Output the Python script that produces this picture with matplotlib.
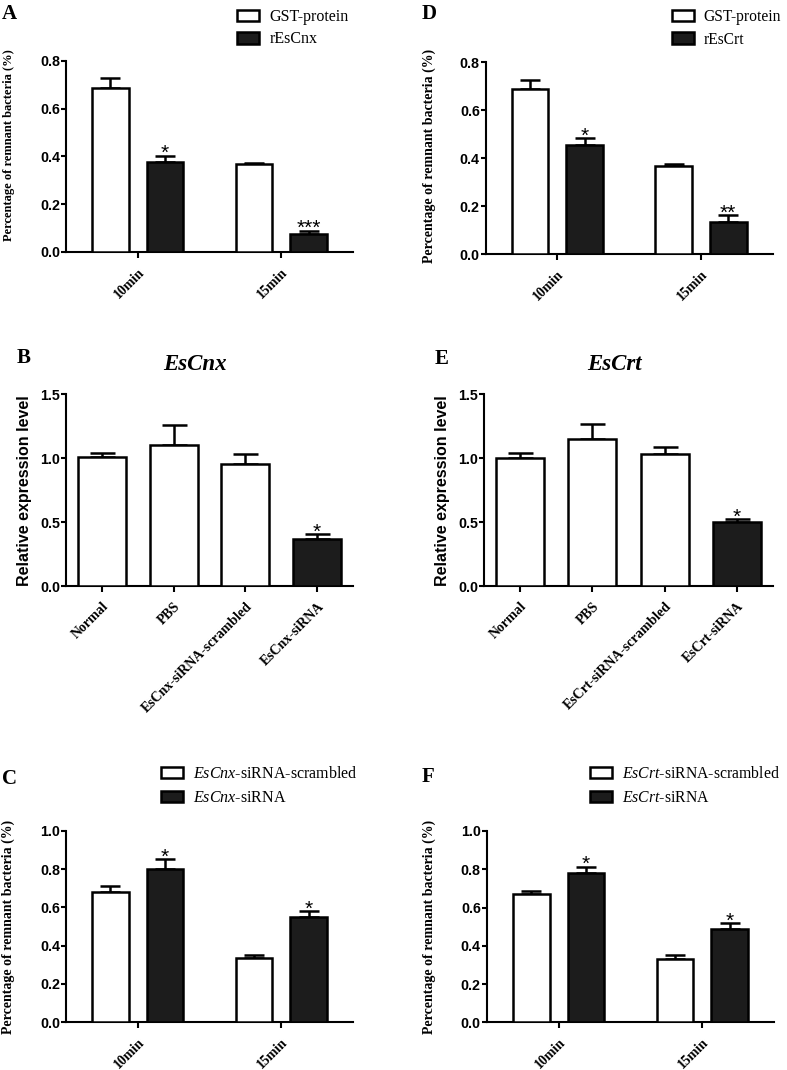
import matplotlib
matplotlib.use('Agg')
import matplotlib.pyplot as plt
from matplotlib.patches import Patch
import numpy as np

plt.rcParams['mathtext.fontset'] = 'custom'
plt.rcParams['mathtext.rm'] = 'Liberation Serif'
plt.rcParams['mathtext.it'] = 'Liberation Serif:italic'

SERIF = 'Liberation Serif'
SANS = 'Liberation Sans'
BLACK = '#1c1c1c'
W, H = 787, 1070

# ---- data ----
times = ['10min', '15min']
cnx_groups = ['Normal', 'PBS', 'EsCnx-siRNA-scrambled', 'EsCnx-siRNA']
crt_groups = ['Normal', 'PBS', 'EsCrt-siRNA-scrambled', 'EsCrt-siRNA']

# A: GST vs rEsCnx
a_gst = [0.688, 0.367]
a_gst_err = [0.039, 0.007]
a_cnx = [0.376, 0.074]
a_cnx_err = [0.027, 0.015]
a_sig = ['*', '***']

# D: GST vs rEsCrt
d_gst = [0.687, 0.367]
d_gst_err = [0.038, 0.007]
d_crt = [0.455, 0.134]
d_crt_err = [0.029, 0.027]
d_sig = ['*', '**']

# B: EsCnx expression
b_vals = [1.007, 1.103, 0.955, 0.370]
b_err = [0.036, 0.157, 0.078, 0.035]
b_sig = ['', '', '', '*']

# E: EsCrt expression
e_vals = [1.000, 1.148, 1.030, 0.498]
e_err = [0.043, 0.117, 0.060, 0.024]
e_sig = ['', '', '', '*']

# C: EsCnx knockdown
c_scr = [0.678, 0.337]
c_scr_err = [0.035, 0.012]
c_si = [0.800, 0.549]
c_si_err = [0.053, 0.032]
c_sig = ['*', '*']

# F: EsCrt knockdown
f_scr = [0.671, 0.331]
f_scr_err = [0.017, 0.021]
f_si = [0.779, 0.488]
f_si_err = [0.035, 0.029]
f_sig = ['*', '*']

fig = plt.figure(figsize=(W / 100, H / 100), dpi=100)


def make_ax(l, t, r, b, ylim, yticks):
    ax = fig.add_axes([l / W, 1 - b / H, (r - l) / W, (b - t) / H])
    ax.spines[['top', 'right']].set_visible(False)
    ax.spines[['left', 'bottom']].set_linewidth(1.5)
    ax.set_ylim(*ylim)
    ax.set_yticks(yticks, labels=['%.1f' % v for v in yticks],
                  fontfamily=SANS, fontweight='bold', fontsize=10.3)
    ax.tick_params(axis='y', length=3.4, width=1.5, pad=0.8)
    ax.tick_params(axis='x', length=4.3, width=1.5, pad=5.5)
    return ax


def xlabels(ax, labels):
    ax.set_xticks(np.arange(len(labels)))
    ax.set_xticklabels(labels, rotation=45, ha='right', va='top',
                       rotation_mode='anchor', fontfamily=SERIF,
                       fontweight='bold', fontsize=10)


def stars(ax, xs, tops, sig):
    for x, y, s in zip(xs, tops, sig):
        if s:
            ax.annotate(s, (x, y), xytext=(0, -2.5), textcoords='offset points',
                        ha='center', va='baseline', fontsize=15, fontfamily=SANS)


def bars(ax, xs, vals, errs, color, width, cap):
    ax.errorbar(xs, vals, yerr=[np.zeros(len(vals)), errs], fmt='none',
                ecolor='black', elinewidth=1.8, capsize=cap, capthick=1.8, zorder=2)
    ax.bar(xs, vals, width, color=color, edgecolor='black', linewidth=1.8, zorder=3)


def paired(ax, w_vals, w_err, k_vals, k_err, sig):
    xs = np.arange(len(times))
    bars(ax, xs - 0.19, w_vals, w_err, 'white', 0.255, 7)
    bars(ax, xs + 0.19, k_vals, k_err, BLACK, 0.255, 7)
    ax.set_xlim(-0.5, len(times) - 0.5)
    xlabels(ax, times)
    stars(ax, xs + 0.19, np.add(k_vals, k_err), sig)


def four(ax, vals, errs, sig, labels):
    xs = np.arange(len(labels))
    colors = ['white', 'white', 'white', BLACK]
    bars(ax, xs, vals, errs, colors, 0.667, 9)
    ax.set_xlim(-0.5, len(labels) - 0.5)
    xlabels(ax, labels)
    stars(ax, xs, np.add(vals, errs), sig)


def legend(x, y, labels, size, hl, hh, pad, spacing):
    handles = [Patch(facecolor='white', edgecolor='black', linewidth=1.8),
               Patch(facecolor=BLACK, edgecolor='black', linewidth=1.8)]
    fig.legend(handles, labels, loc='upper left', bbox_to_anchor=(x / W, 1 - y / H),
               frameon=False, prop={'family': SERIF, 'size': size},
               handlelength=hl, handleheight=hh, handletextpad=pad,
               labelspacing=spacing, borderpad=0, borderaxespad=0)


def letter(x, y, s):
    fig.text(x / W, 1 - y / H, s, fontfamily=SERIF, fontweight='bold',
             fontsize=15, ha='left', va='baseline')


rem_label = 'Percentage of remnant bacteria (%)'
rel_label = 'Relative expression level'

# A
axA = make_ax(66, 61, 353, 252, (0, 0.8), [0, 0.2, 0.4, 0.6, 0.8])
paired(axA, a_gst, a_gst_err, a_cnx, a_cnx_err, a_sig)
axA.set_ylabel(rem_label, fontfamily=SERIF, fontweight='bold', fontsize=9)
axA.yaxis.set_label_coords((15 - 66) / 287, 0.56)

# D
axD = make_ax(485.7, 62.3, 772.7, 254, (0, 0.8), [0, 0.2, 0.4, 0.6, 0.8])
paired(axD, d_gst, d_gst_err, d_crt, d_crt_err, d_sig)
axD.set_ylabel(rem_label, fontfamily=SERIF, fontweight='bold', fontsize=10)
axD.yaxis.set_label_coords((436 - 485.7) / 287, 0.51)

# B
axB = make_ax(66, 394.3, 353, 586, (0, 1.5), [0, 0.5, 1.0, 1.5])
four(axB, b_vals, b_err, b_sig, cnx_groups)
axB.set_ylabel(rel_label, fontfamily=SANS, fontweight='bold', fontsize=11.5)
axB.yaxis.set_label_coords((32 - 66) / 287, 0.5)

# E
axE = make_ax(484.3, 394.3, 772.7, 586, (0, 1.5), [0, 0.5, 1.0, 1.5])
four(axE, e_vals, e_err, e_sig, crt_groups)
axE.set_ylabel(rel_label, fontfamily=SANS, fontweight='bold', fontsize=11.5)
axE.yaxis.set_label_coords((450 - 484.3) / 288.4, 0.5)

# C
axC = make_ax(66, 830.7, 353, 1022.3, (0, 1.0), [0, 0.2, 0.4, 0.6, 0.8, 1.0])
paired(axC, c_scr, c_scr_err, c_si, c_si_err, c_sig)
axC.set_ylabel(rem_label, fontfamily=SERIF, fontweight='bold', fontsize=10)
axC.yaxis.set_label_coords((15 - 66) / 287, 0.5)

# F
axF = make_ax(486.7, 831, 774.3, 1022.3, (0, 1.0), [0, 0.2, 0.4, 0.6, 0.8, 1.0])
paired(axF, f_scr, f_scr_err, f_si, f_si_err, f_sig)
axF.set_ylabel(rem_label, fontfamily=SERIF, fontweight='bold', fontsize=10)
axF.yaxis.set_label_coords((436 - 486.7) / 287.6, 0.5)

# legends
legend(237, 9, ['GST-protein', 'rEsCnx'], 11.5, 1.38, 0.72, 0.67, 0.4)
legend(672, 9, ['GST-protein', 'rEsCrt'], 11.2, 1.42, 0.74, 0.6, 0.42)
legend(161, 766, [r'$\it{EsCnx}$-siRNA-scrambled', r'$\it{EsCnx}$-siRNA'],
       11.5, 1.38, 0.69, 0.63, 0.48)
legend(590, 766, [r'$\it{EsCrt}$-siRNA-scrambled', r'$\it{EsCrt}$-siRNA'],
       11.3, 1.4, 0.7, 0.62, 0.5)

# panel letters and titles
letter(2, 19, 'A')
letter(422, 19, 'D')
letter(17, 363, 'B')
letter(435, 364, 'E')
letter(2, 784, 'C')
letter(422, 782, 'F')
fig.text(195 / W, 1 - 370 / H, 'EsCnx', fontfamily=SERIF, fontweight='bold',
         fontstyle='italic', fontsize=16.5, ha='center', va='baseline')
fig.text(614 / W, 1 - 370 / H, 'EsCrt', fontfamily=SERIF, fontweight='bold',
         fontstyle='italic', fontsize=16.5, ha='center', va='baseline')

fig.savefig('out.png', dpi=100)
